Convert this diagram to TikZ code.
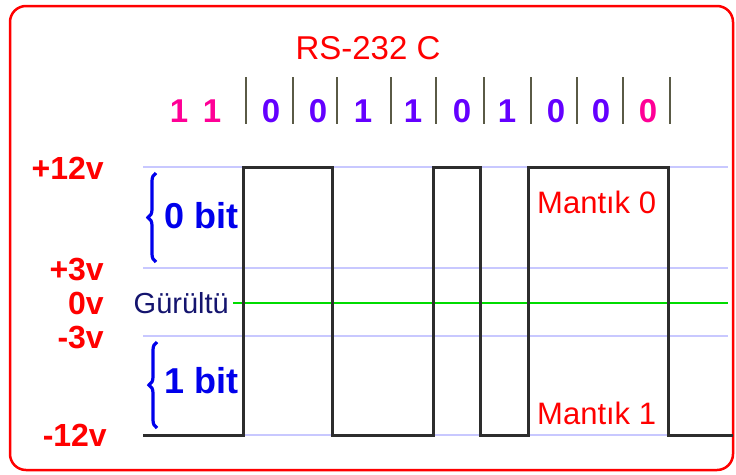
\documentclass[tikz,border=0pt]{standalone}
\usepackage{fontspec}
\setmainfont{Liberation Sans}
\usetikzlibrary{decorations.pathreplacing}
\definecolor{framered}{RGB}{255,0,0}
\definecolor{levelgray}{RGB}{200,200,255}
\definecolor{noisegreen}{RGB}{0,220,0}
\definecolor{noisenavy}{RGB}{20,20,110}
\definecolor{bitpink}{RGB}{255,0,150}
\definecolor{bitviolet}{RGB}{100,0,255}
\definecolor{braceblue}{RGB}{0,0,235}
\definecolor{tickgray}{RGB}{90,90,70}
\definecolor{signalgray}{RGB}{45,45,45}

\begin{document}
\begin{tikzpicture}[x=1pt, y=-1pt,
    title/.style={inner sep=0pt, text=framered, font=\fontsize{33}{35}\selectfont},
    volt/.style={anchor=east, inner sep=0pt, text=framered, font=\fontsize{32}{34}\selectfont\bfseries},
    bitlbl/.style={inner sep=0pt, font=\fontsize{33}{35}\selectfont\bfseries},
    logic/.style={anchor=west, inner sep=0pt, text=framered, font=\fontsize{31}{33}\selectfont},
    bittext/.style={anchor=east, inner sep=0pt, text=braceblue, font=\fontsize{36}{38}\selectfont\bfseries},
    level/.style={levelgray, line width=1.2pt},
    bitbrace/.style={decorate, decoration={brace, amplitude=8pt}, braceblue, line width=3.2pt},
    signal/.style={signalgray, line width=3pt, line join=miter}
]
\useasboundingbox (0,0) rectangle (736,474);
\draw[framered, line width=2.5pt, rounded corners=16pt] (10,6) rectangle (733,470);

\node[title] (rs) at (368,48) {RS-232 C};
\foreach \x in {246,293,337,391,436,484,531,577,623,670}
  \draw[tickgray, line width=1.5pt] (\x,77) -- (\x,124);
\foreach \x/\b/\c [count=\i] in {179/1/bitpink, 212/1/bitpink, 271/0/bitviolet, 318/0/bitviolet,
    363/1/bitviolet, 413/1/bitviolet, 462/0/bitviolet, 507/1/bitviolet, 556/0/bitviolet,
    601/0/bitviolet, 648/0/bitpink}
  \node[bitlbl, text=\c] (bit\i) at (\x,111) {\b};

\node[volt] (vp12) at (104,168) {+12v};
\node[volt] (vp3) at (104,270) {+3v};
\node[volt] (v0) at (104,303) {0v};
\node[volt] (vm3) at (104,338) {-3v};
\node[volt] (vm12) at (107,435) {-12v};

\foreach \y in {167,268,336,435}
  \draw[level] (143,\y) -- (728,\y);
\node[anchor=east, inner sep=0pt, text=noisenavy, font=\fontsize{29}{31}\selectfont] (noise) at (229,303) {Gürültü};
\draw[noisegreen, line width=2pt] (noise.east) ++(4,0) -- (728,303);

\draw[bitbrace] (156,262) -- (156,173);
\node[bittext] (zero) at (239,216) {0 bit};
\draw[bitbrace] (157,428) -- (157,342);
\node[bittext] (one) at (239,381) {1 bit};

\draw[signal] (143,435) -- (243,435) -- (243,167) -- (332,167) -- (332,435) -- (433,435)
  -- (433,167) -- (480,167) -- (480,435) -- (528,435) -- (528,167) -- (668,167)
  -- (668,435) -- (733,435);

\node[logic] (m0) at (537,202) {Mantık 0};
\node[logic] (m1) at (537,413) {Mantık 1};
\end{tikzpicture}
\end{document}
